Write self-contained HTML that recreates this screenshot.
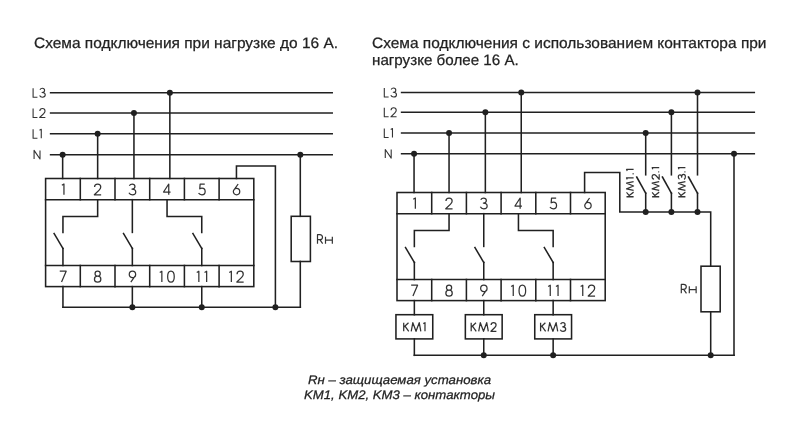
<!DOCTYPE html>
<html><head><meta charset="utf-8"><style>
html,body{margin:0;padding:0;background:#fff;}
svg{display:block;font-family:"Liberation Sans",sans-serif;text-rendering:geometricPrecision;}
</style></head><body>
<svg width="800" height="443" viewBox="0 0 800 443">
<rect width="800" height="443" fill="#fff"/>
<g fill="none" stroke="#202020" stroke-width="1.55" stroke-linecap="square">
<line x1="50.60" y1="92.70" x2="332.20" y2="92.70"/>
<line x1="50.60" y1="113.00" x2="332.20" y2="113.00"/>
<line x1="50.60" y1="133.80" x2="332.20" y2="133.80"/>
<line x1="50.60" y1="154.70" x2="332.20" y2="154.70"/>
<rect x="45.60" y="178.50" width="208.20" height="108.10"/>
<line x1="45.60" y1="199.70" x2="253.80" y2="199.70"/>
<line x1="45.60" y1="265.50" x2="253.80" y2="265.50"/>
<line x1="80.30" y1="178.50" x2="80.30" y2="199.70"/>
<line x1="80.30" y1="265.50" x2="80.30" y2="286.60"/>
<line x1="115.00" y1="178.50" x2="115.00" y2="199.70"/>
<line x1="115.00" y1="265.50" x2="115.00" y2="286.60"/>
<line x1="149.70" y1="178.50" x2="149.70" y2="199.70"/>
<line x1="149.70" y1="265.50" x2="149.70" y2="286.60"/>
<line x1="184.40" y1="178.50" x2="184.40" y2="199.70"/>
<line x1="184.40" y1="265.50" x2="184.40" y2="286.60"/>
<line x1="219.10" y1="178.50" x2="219.10" y2="199.70"/>
<line x1="219.10" y1="265.50" x2="219.10" y2="286.60"/>
<line x1="62.65" y1="154.70" x2="62.65" y2="178.50"/>
<line x1="97.65" y1="133.80" x2="97.65" y2="178.50"/>
<line x1="133.95" y1="113.00" x2="133.95" y2="178.50"/>
<line x1="169.85" y1="92.70" x2="169.85" y2="178.50"/>
<polyline points="97.65,199.70 97.65,216.40 62.95,216.40 62.95,232.40"/>
<line x1="54.15" y1="233.60" x2="62.95" y2="248.40"/>
<line x1="62.95" y1="248.40" x2="62.95" y2="265.50"/>
<line x1="132.35" y1="199.70" x2="132.35" y2="232.40"/>
<line x1="123.55" y1="233.60" x2="132.35" y2="248.40"/>
<line x1="132.35" y1="248.40" x2="132.35" y2="265.50"/>
<polyline points="167.05,199.70 167.05,216.40 201.75,216.40 201.75,232.40"/>
<line x1="192.95" y1="233.60" x2="201.75" y2="248.40"/>
<line x1="201.75" y1="248.40" x2="201.75" y2="265.50"/>
<polyline points="236.45,178.50 236.45,166.00 275.40,166.00 275.40,307.20"/>
<line x1="62.95" y1="286.60" x2="62.95" y2="307.20"/>
<line x1="132.35" y1="286.60" x2="132.35" y2="307.20"/>
<line x1="201.75" y1="286.60" x2="201.75" y2="307.20"/>
<line x1="62.95" y1="307.20" x2="300.30" y2="307.20"/>
<line x1="300.30" y1="154.70" x2="300.30" y2="216.30"/>
<rect x="291.20" y="216.30" width="19.20" height="45.20"/>
<line x1="300.30" y1="261.50" x2="300.30" y2="307.20"/>
<line x1="401.60" y1="92.50" x2="754.30" y2="92.50"/>
<line x1="401.60" y1="112.30" x2="754.30" y2="112.30"/>
<line x1="401.60" y1="133.00" x2="754.30" y2="133.00"/>
<line x1="401.60" y1="153.80" x2="754.30" y2="153.80"/>
<rect x="397.00" y="192.50" width="208.20" height="108.10"/>
<line x1="397.00" y1="213.70" x2="605.20" y2="213.70"/>
<line x1="397.00" y1="279.50" x2="605.20" y2="279.50"/>
<line x1="431.70" y1="192.50" x2="431.70" y2="213.70"/>
<line x1="431.70" y1="279.50" x2="431.70" y2="300.60"/>
<line x1="466.40" y1="192.50" x2="466.40" y2="213.70"/>
<line x1="466.40" y1="279.50" x2="466.40" y2="300.60"/>
<line x1="501.10" y1="192.50" x2="501.10" y2="213.70"/>
<line x1="501.10" y1="279.50" x2="501.10" y2="300.60"/>
<line x1="535.80" y1="192.50" x2="535.80" y2="213.70"/>
<line x1="535.80" y1="279.50" x2="535.80" y2="300.60"/>
<line x1="570.50" y1="192.50" x2="570.50" y2="213.70"/>
<line x1="570.50" y1="279.50" x2="570.50" y2="300.60"/>
<line x1="414.05" y1="153.80" x2="414.05" y2="192.50"/>
<line x1="449.05" y1="133.00" x2="449.05" y2="192.50"/>
<line x1="485.35" y1="112.30" x2="485.35" y2="192.50"/>
<line x1="521.25" y1="92.50" x2="521.25" y2="192.50"/>
<polyline points="449.05,213.70 449.05,230.40 414.35,230.40 414.35,246.40"/>
<line x1="405.55" y1="247.60" x2="414.35" y2="262.40"/>
<line x1="414.35" y1="262.40" x2="414.35" y2="279.50"/>
<line x1="483.75" y1="213.70" x2="483.75" y2="246.40"/>
<line x1="474.95" y1="247.60" x2="483.75" y2="262.40"/>
<line x1="483.75" y1="262.40" x2="483.75" y2="279.50"/>
<polyline points="518.45,213.70 518.45,230.40 553.15,230.40 553.15,246.40"/>
<line x1="544.35" y1="247.60" x2="553.15" y2="262.40"/>
<line x1="553.15" y1="262.40" x2="553.15" y2="279.50"/>
<polyline points="584.60,192.50 584.60,172.50 619.80,172.50 619.80,211.90 710.70,211.90 710.70,266.20"/>
<line x1="645.70" y1="133.00" x2="645.70" y2="174.80"/>
<line x1="636.70" y1="177.00" x2="645.70" y2="193.20"/>
<line x1="645.70" y1="193.20" x2="645.70" y2="211.90"/>
<line x1="671.40" y1="112.30" x2="671.40" y2="174.80"/>
<line x1="662.40" y1="177.00" x2="671.40" y2="193.20"/>
<line x1="671.40" y1="193.20" x2="671.40" y2="211.90"/>
<line x1="697.50" y1="92.50" x2="697.50" y2="174.80"/>
<line x1="688.50" y1="177.00" x2="697.50" y2="193.20"/>
<line x1="697.50" y1="193.20" x2="697.50" y2="211.90"/>
<rect x="701.00" y="266.20" width="19.20" height="45.60"/>
<line x1="710.70" y1="311.80" x2="710.70" y2="355.30"/>
<line x1="734.00" y1="153.80" x2="734.00" y2="355.30"/>
<line x1="414.35" y1="355.30" x2="734.00" y2="355.30"/>
<line x1="414.35" y1="300.60" x2="414.35" y2="314.70"/>
<rect x="395.95" y="314.70" width="36.80" height="24.20"/>
<line x1="414.35" y1="338.90" x2="414.35" y2="355.30"/>
<line x1="483.75" y1="300.60" x2="483.75" y2="314.70"/>
<rect x="465.35" y="314.70" width="36.80" height="24.20"/>
<line x1="483.75" y1="338.90" x2="483.75" y2="355.30"/>
<line x1="553.15" y1="300.60" x2="553.15" y2="314.70"/>
<rect x="534.75" y="314.70" width="36.80" height="24.20"/>
<line x1="553.15" y1="338.90" x2="553.15" y2="355.30"/>
</g>
<g fill="#202020">
<circle cx="62.65" cy="154.70" r="3.0"/>
<circle cx="97.65" cy="133.80" r="3.0"/>
<circle cx="133.95" cy="113.00" r="3.0"/>
<circle cx="169.85" cy="92.70" r="3.0"/>
<circle cx="132.35" cy="307.20" r="3.0"/>
<circle cx="201.75" cy="307.20" r="3.0"/>
<circle cx="275.40" cy="307.20" r="3.0"/>
<circle cx="300.30" cy="154.70" r="3.0"/>
<circle cx="414.05" cy="153.80" r="3.0"/>
<circle cx="449.05" cy="133.00" r="3.0"/>
<circle cx="485.35" cy="112.30" r="3.0"/>
<circle cx="521.25" cy="92.50" r="3.0"/>
<circle cx="645.70" cy="133.00" r="3.0"/>
<circle cx="645.70" cy="211.90" r="3.0"/>
<circle cx="671.40" cy="112.30" r="3.0"/>
<circle cx="671.40" cy="211.90" r="3.0"/>
<circle cx="697.50" cy="92.50" r="3.0"/>
<circle cx="697.50" cy="211.90" r="3.0"/>
<circle cx="734.00" cy="153.80" r="3.0"/>
<circle cx="483.75" cy="355.30" r="3.0"/>
<circle cx="553.15" cy="355.30" r="3.0"/>
<circle cx="710.70" cy="355.30" r="3.0"/>
</g>
<g fill="none" stroke="#333" stroke-linecap="butt" stroke-linejoin="round">
<path transform="translate(32.60,87.70) scale(0.8333,0.8333)" stroke-width="1.320" d="M0.6,0.6 L0.6,11.4 L5.8,11.4"/>
<path transform="translate(39.10,87.70) scale(0.8333,0.8333)" stroke-width="1.320" d="M1.0,2.4 C1.6,1.2 2.6,0.6 3.9,0.6 C5.5,0.6 6.6,1.8 6.6,3.2 C6.6,4.7 5.4,5.7 3.6,5.7 C5.9,5.7 7.4,7.0 7.4,8.6 C7.4,10.2 5.9,11.4 4.0,11.4 C2.5,11.4 1.2,10.6 0.6,9.3"/>
<path transform="translate(32.60,108.00) scale(0.8333,0.8333)" stroke-width="1.320" d="M0.6,0.6 L0.6,11.4 L5.8,11.4"/>
<path transform="translate(39.10,108.00) scale(0.8333,0.8333)" stroke-width="1.320" d="M0.9,3.6 C0.9,1.8 2.2,0.6 4.0,0.6 C5.9,0.6 7.1,1.9 7.1,3.6 C7.1,4.9 6.4,5.8 5.5,6.7 L0.7,11.4 L7.5,11.4"/>
<path transform="translate(32.60,128.80) scale(0.8333,0.8333)" stroke-width="1.320" d="M0.6,0.6 L0.6,11.4 L5.8,11.4"/>
<path transform="translate(39.10,128.80) scale(0.8333,0.8333)" stroke-width="1.320" d="M0.5,1.8 L2.6,0.6 L2.6,11.4"/>
<path transform="translate(33.60,149.90) scale(0.8000,0.8000)" stroke-width="1.375" d="M0.6,11.4 L0.6,0.6 L8.0,11.4 L8.0,0.6"/>
<path transform="translate(61.35,183.40) scale(1.0000,1.0000)" stroke-width="1.250" d="M0.5,1.8 L2.6,0.6 L2.6,11.4"/>
<path transform="translate(59.15,270.65) scale(1.0000,1.0000)" stroke-width="1.250" d="M0.6,0.6 L7.0,0.6 L2.4,11.4"/>
<path transform="translate(93.65,183.40) scale(1.0000,1.0000)" stroke-width="1.250" d="M0.9,3.6 C0.9,1.8 2.2,0.6 4.0,0.6 C5.9,0.6 7.1,1.9 7.1,3.6 C7.1,4.9 6.4,5.8 5.5,6.7 L0.7,11.4 L7.5,11.4"/>
<path transform="translate(93.85,270.65) scale(1.0000,1.0000)" stroke-width="1.250" d="M3.8,0.6 C5.3,0.6 6.4,1.7 6.4,3.1 C6.4,4.5 5.3,5.6 3.8,5.6 C2.3,5.6 1.2,4.5 1.2,3.1 C1.2,1.7 2.3,0.6 3.8,0.6 Z M3.8,5.6 C5.6,5.6 7.0,6.9 7.0,8.5 C7.0,10.1 5.6,11.4 3.8,11.4 C2.0,11.4 0.6,10.1 0.6,8.5 C0.6,6.9 2.0,5.6 3.8,5.6 Z"/>
<path transform="translate(128.35,183.40) scale(1.0000,1.0000)" stroke-width="1.250" d="M1.0,2.4 C1.6,1.2 2.6,0.6 3.9,0.6 C5.5,0.6 6.6,1.8 6.6,3.2 C6.6,4.7 5.4,5.7 3.6,5.7 C5.9,5.7 7.4,7.0 7.4,8.6 C7.4,10.2 5.9,11.4 4.0,11.4 C2.5,11.4 1.2,10.6 0.6,9.3"/>
<path transform="translate(128.45,270.65) scale(1.0000,1.0000)" stroke-width="1.250" d="M2.4,11.4 L6.7,5.3 M4.0,7.0 C2.2,7.0 0.8,5.6 0.8,3.8 C0.8,2.0 2.2,0.6 4.0,0.6 C5.8,0.6 7.2,2.0 7.2,3.8 C7.2,5.6 5.8,7.0 4.0,7.0 Z"/>
<path transform="translate(162.95,183.40) scale(1.0000,1.0000)" stroke-width="1.250" d="M5.8,11.4 L5.8,0.6 L0.6,8.6 L7.6,8.6"/>
<path transform="translate(159.25,270.65) scale(1.0000,1.0000)" stroke-width="1.250" d="M0.5,1.8 L2.6,0.6 L2.6,11.4"/>
<path transform="translate(167.05,270.65) scale(1.0000,1.0000)" stroke-width="1.250" d="M3.9,0.6 C6.0,0.6 7.2,3.0 7.2,6.0 C7.2,9.0 6.0,11.4 3.9,11.4 C1.8,11.4 0.6,9.0 0.6,6.0 C0.6,3.0 1.8,0.6 3.9,0.6 Z"/>
<path transform="translate(197.95,183.40) scale(1.0000,1.0000)" stroke-width="1.250" d="M6.8,0.6 L2.2,0.6 L1.8,5.4 C2.5,4.9 3.2,4.6 4.0,4.6 C5.9,4.6 7.2,6.0 7.2,8.0 C7.2,10.0 5.8,11.4 3.9,11.4 C2.4,11.4 1.2,10.6 0.6,9.6"/>
<path transform="translate(196.25,270.65) scale(1.0000,1.0000)" stroke-width="1.250" d="M0.5,1.8 L2.6,0.6 L2.6,11.4"/>
<path transform="translate(204.05,270.65) scale(1.0000,1.0000)" stroke-width="1.250" d="M0.5,1.8 L2.6,0.6 L2.6,11.4"/>
<path transform="translate(232.55,183.40) scale(1.0000,1.0000)" stroke-width="1.250" d="M5.6,0.6 L1.3,6.7 M4.0,5.0 C5.8,5.0 7.2,6.4 7.2,8.2 C7.2,10.0 5.8,11.4 4.0,11.4 C2.2,11.4 0.8,10.0 0.8,8.2 C0.8,6.4 2.2,5.0 4.0,5.0 Z"/>
<path transform="translate(228.75,270.65) scale(1.0000,1.0000)" stroke-width="1.250" d="M0.5,1.8 L2.6,0.6 L2.6,11.4"/>
<path transform="translate(236.15,270.65) scale(1.0000,1.0000)" stroke-width="1.250" d="M0.9,3.6 C0.9,1.8 2.2,0.6 4.0,0.6 C5.9,0.6 7.1,1.9 7.1,3.6 C7.1,4.9 6.4,5.8 5.5,6.7 L0.7,11.4 L7.5,11.4"/>
<path transform="translate(317.00,234.20) scale(0.8333,0.8333)" stroke-width="1.440" d="M0.6,11.4 L0.6,0.6 L3.4,0.6 C5.4,0.6 6.6,1.9 6.6,3.6 C6.6,5.3 5.4,6.6 3.4,6.6 L0.6,6.6 M3.4,6.6 L6.8,11.4"/>
<path transform="translate(325.00,234.20) scale(0.8333,0.8333)" stroke-width="1.440" d="M0.6,3.0 L0.6,11.4 M8.8,3.0 L8.8,11.4 M0.6,7.0 L8.8,7.0"/>
<path transform="translate(383.80,87.50) scale(0.8333,0.8333)" stroke-width="1.320" d="M0.6,0.6 L0.6,11.4 L5.8,11.4"/>
<path transform="translate(390.30,87.50) scale(0.8333,0.8333)" stroke-width="1.320" d="M1.0,2.4 C1.6,1.2 2.6,0.6 3.9,0.6 C5.5,0.6 6.6,1.8 6.6,3.2 C6.6,4.7 5.4,5.7 3.6,5.7 C5.9,5.7 7.4,7.0 7.4,8.6 C7.4,10.2 5.9,11.4 4.0,11.4 C2.5,11.4 1.2,10.6 0.6,9.3"/>
<path transform="translate(383.80,107.30) scale(0.8333,0.8333)" stroke-width="1.320" d="M0.6,0.6 L0.6,11.4 L5.8,11.4"/>
<path transform="translate(390.30,107.30) scale(0.8333,0.8333)" stroke-width="1.320" d="M0.9,3.6 C0.9,1.8 2.2,0.6 4.0,0.6 C5.9,0.6 7.1,1.9 7.1,3.6 C7.1,4.9 6.4,5.8 5.5,6.7 L0.7,11.4 L7.5,11.4"/>
<path transform="translate(383.80,128.00) scale(0.8333,0.8333)" stroke-width="1.320" d="M0.6,0.6 L0.6,11.4 L5.8,11.4"/>
<path transform="translate(390.30,128.00) scale(0.8333,0.8333)" stroke-width="1.320" d="M0.5,1.8 L2.6,0.6 L2.6,11.4"/>
<path transform="translate(384.80,149.00) scale(0.8000,0.8000)" stroke-width="1.375" d="M0.6,11.4 L0.6,0.6 L8.0,11.4 L8.0,0.6"/>
<path transform="translate(412.75,197.40) scale(1.0000,1.0000)" stroke-width="1.250" d="M0.5,1.8 L2.6,0.6 L2.6,11.4"/>
<path transform="translate(410.55,284.65) scale(1.0000,1.0000)" stroke-width="1.250" d="M0.6,0.6 L7.0,0.6 L2.4,11.4"/>
<path transform="translate(445.05,197.40) scale(1.0000,1.0000)" stroke-width="1.250" d="M0.9,3.6 C0.9,1.8 2.2,0.6 4.0,0.6 C5.9,0.6 7.1,1.9 7.1,3.6 C7.1,4.9 6.4,5.8 5.5,6.7 L0.7,11.4 L7.5,11.4"/>
<path transform="translate(445.25,284.65) scale(1.0000,1.0000)" stroke-width="1.250" d="M3.8,0.6 C5.3,0.6 6.4,1.7 6.4,3.1 C6.4,4.5 5.3,5.6 3.8,5.6 C2.3,5.6 1.2,4.5 1.2,3.1 C1.2,1.7 2.3,0.6 3.8,0.6 Z M3.8,5.6 C5.6,5.6 7.0,6.9 7.0,8.5 C7.0,10.1 5.6,11.4 3.8,11.4 C2.0,11.4 0.6,10.1 0.6,8.5 C0.6,6.9 2.0,5.6 3.8,5.6 Z"/>
<path transform="translate(479.75,197.40) scale(1.0000,1.0000)" stroke-width="1.250" d="M1.0,2.4 C1.6,1.2 2.6,0.6 3.9,0.6 C5.5,0.6 6.6,1.8 6.6,3.2 C6.6,4.7 5.4,5.7 3.6,5.7 C5.9,5.7 7.4,7.0 7.4,8.6 C7.4,10.2 5.9,11.4 4.0,11.4 C2.5,11.4 1.2,10.6 0.6,9.3"/>
<path transform="translate(479.85,284.65) scale(1.0000,1.0000)" stroke-width="1.250" d="M2.4,11.4 L6.7,5.3 M4.0,7.0 C2.2,7.0 0.8,5.6 0.8,3.8 C0.8,2.0 2.2,0.6 4.0,0.6 C5.8,0.6 7.2,2.0 7.2,3.8 C7.2,5.6 5.8,7.0 4.0,7.0 Z"/>
<path transform="translate(514.35,197.40) scale(1.0000,1.0000)" stroke-width="1.250" d="M5.8,11.4 L5.8,0.6 L0.6,8.6 L7.6,8.6"/>
<path transform="translate(510.65,284.65) scale(1.0000,1.0000)" stroke-width="1.250" d="M0.5,1.8 L2.6,0.6 L2.6,11.4"/>
<path transform="translate(518.45,284.65) scale(1.0000,1.0000)" stroke-width="1.250" d="M3.9,0.6 C6.0,0.6 7.2,3.0 7.2,6.0 C7.2,9.0 6.0,11.4 3.9,11.4 C1.8,11.4 0.6,9.0 0.6,6.0 C0.6,3.0 1.8,0.6 3.9,0.6 Z"/>
<path transform="translate(549.35,197.40) scale(1.0000,1.0000)" stroke-width="1.250" d="M6.8,0.6 L2.2,0.6 L1.8,5.4 C2.5,4.9 3.2,4.6 4.0,4.6 C5.9,4.6 7.2,6.0 7.2,8.0 C7.2,10.0 5.8,11.4 3.9,11.4 C2.4,11.4 1.2,10.6 0.6,9.6"/>
<path transform="translate(547.65,284.65) scale(1.0000,1.0000)" stroke-width="1.250" d="M0.5,1.8 L2.6,0.6 L2.6,11.4"/>
<path transform="translate(555.45,284.65) scale(1.0000,1.0000)" stroke-width="1.250" d="M0.5,1.8 L2.6,0.6 L2.6,11.4"/>
<path transform="translate(583.95,197.40) scale(1.0000,1.0000)" stroke-width="1.250" d="M5.6,0.6 L1.3,6.7 M4.0,5.0 C5.8,5.0 7.2,6.4 7.2,8.2 C7.2,10.0 5.8,11.4 4.0,11.4 C2.2,11.4 0.8,10.0 0.8,8.2 C0.8,6.4 2.2,5.0 4.0,5.0 Z"/>
<path transform="translate(580.15,284.65) scale(1.0000,1.0000)" stroke-width="1.250" d="M0.5,1.8 L2.6,0.6 L2.6,11.4"/>
<path transform="translate(587.55,284.65) scale(1.0000,1.0000)" stroke-width="1.250" d="M0.9,3.6 C0.9,1.8 2.2,0.6 4.0,0.6 C5.9,0.6 7.1,1.9 7.1,3.6 C7.1,4.9 6.4,5.8 5.5,6.7 L0.7,11.4 L7.5,11.4"/>
<path transform="translate(403.23,322.20) scale(0.8000,0.8000)" stroke-width="1.563" d="M0.6,0.6 L0.6,11.4 M6.6,0.6 L0.6,6.3 M2.2,4.8 L6.9,11.4"/>
<path transform="translate(410.75,322.20) scale(0.8000,0.8000)" stroke-width="1.563" d="M0.6,11.4 L2.6,0.6 L6.6,11.4 L10.6,0.6 L12.6,11.4"/>
<path transform="translate(422.91,322.20) scale(0.8000,0.8000)" stroke-width="1.563" d="M0.5,1.8 L2.6,0.6 L2.6,11.4"/>
<path transform="translate(470.71,322.20) scale(0.8000,0.8000)" stroke-width="1.563" d="M0.6,0.6 L0.6,11.4 M6.6,0.6 L0.6,6.3 M2.2,4.8 L6.9,11.4"/>
<path transform="translate(478.23,322.20) scale(0.8000,0.8000)" stroke-width="1.563" d="M0.6,11.4 L2.6,0.6 L6.6,11.4 L10.6,0.6 L12.6,11.4"/>
<path transform="translate(490.39,322.20) scale(0.8000,0.8000)" stroke-width="1.563" d="M0.9,3.6 C0.9,1.8 2.2,0.6 4.0,0.6 C5.9,0.6 7.1,1.9 7.1,3.6 C7.1,4.9 6.4,5.8 5.5,6.7 L0.7,11.4 L7.5,11.4"/>
<path transform="translate(540.11,322.20) scale(0.8000,0.8000)" stroke-width="1.563" d="M0.6,0.6 L0.6,11.4 M6.6,0.6 L0.6,6.3 M2.2,4.8 L6.9,11.4"/>
<path transform="translate(547.63,322.20) scale(0.8000,0.8000)" stroke-width="1.563" d="M0.6,11.4 L2.6,0.6 L6.6,11.4 L10.6,0.6 L12.6,11.4"/>
<path transform="translate(559.79,322.20) scale(0.8000,0.8000)" stroke-width="1.563" d="M1.0,2.4 C1.6,1.2 2.6,0.6 3.9,0.6 C5.5,0.6 6.6,1.8 6.6,3.2 C6.6,4.7 5.4,5.7 3.6,5.7 C5.9,5.7 7.4,7.0 7.4,8.6 C7.4,10.2 5.9,11.4 4.0,11.4 C2.5,11.4 1.2,10.6 0.6,9.3"/>
<path transform="translate(680.80,283.80) scale(0.8333,0.8333)" stroke-width="1.440" d="M0.6,11.4 L0.6,0.6 L3.4,0.6 C5.4,0.6 6.6,1.9 6.6,3.6 C6.6,5.3 5.4,6.6 3.4,6.6 L0.6,6.6 M3.4,6.6 L6.8,11.4"/>
<path transform="translate(688.80,283.80) scale(0.8333,0.8333)" stroke-width="1.440" d="M0.6,3.0 L0.6,11.4 M8.8,3.0 L8.8,11.4 M0.6,7.0 L8.8,7.0"/>
<g transform="translate(634.00,197.8) rotate(-90)"><path transform="translate(0.60,-7.90) scale(0.7373,0.6583)" stroke-width="1.747" d="M0.6,0.6 L0.6,11.4 M6.6,0.6 L0.6,6.3 M2.2,4.8 L6.9,11.4"/><path transform="translate(6.94,-7.90) scale(0.7373,0.6583)" stroke-width="1.747" d="M0.6,11.4 L2.6,0.6 L6.6,11.4 L10.6,0.6 L12.6,11.4"/><path transform="translate(18.00,-7.90) scale(0.7373,0.6583)" stroke-width="1.747" d="M0.5,1.8 L2.6,0.6 L2.6,11.4"/><path transform="translate(23.46,-7.90) scale(0.7373,0.6583)" stroke-width="1.747" d="M0.8,9.9 L0.8,11.4"/><path transform="translate(26.41,-7.90) scale(0.7373,0.6583)" stroke-width="1.747" d="M0.5,1.8 L2.6,0.6 L2.6,11.4"/></g>
<g transform="translate(659.60,197.8) rotate(-90)"><path transform="translate(0.60,-7.90) scale(0.7373,0.6583)" stroke-width="1.747" d="M0.6,0.6 L0.6,11.4 M6.6,0.6 L0.6,6.3 M2.2,4.8 L6.9,11.4"/><path transform="translate(6.94,-7.90) scale(0.7373,0.6583)" stroke-width="1.747" d="M0.6,11.4 L2.6,0.6 L6.6,11.4 L10.6,0.6 L12.6,11.4"/><path transform="translate(18.00,-7.90) scale(0.7373,0.6583)" stroke-width="1.747" d="M0.9,3.6 C0.9,1.8 2.2,0.6 4.0,0.6 C5.9,0.6 7.1,1.9 7.1,3.6 C7.1,4.9 6.4,5.8 5.5,6.7 L0.7,11.4 L7.5,11.4"/><path transform="translate(25.23,-7.90) scale(0.7373,0.6583)" stroke-width="1.747" d="M0.8,9.9 L0.8,11.4"/><path transform="translate(28.18,-7.90) scale(0.7373,0.6583)" stroke-width="1.747" d="M0.5,1.8 L2.6,0.6 L2.6,11.4"/></g>
<g transform="translate(685.80,197.8) rotate(-90)"><path transform="translate(0.60,-7.90) scale(0.7373,0.6583)" stroke-width="1.747" d="M0.6,0.6 L0.6,11.4 M6.6,0.6 L0.6,6.3 M2.2,4.8 L6.9,11.4"/><path transform="translate(6.94,-7.90) scale(0.7373,0.6583)" stroke-width="1.747" d="M0.6,11.4 L2.6,0.6 L6.6,11.4 L10.6,0.6 L12.6,11.4"/><path transform="translate(18.00,-7.90) scale(0.7373,0.6583)" stroke-width="1.747" d="M1.0,2.4 C1.6,1.2 2.6,0.6 3.9,0.6 C5.5,0.6 6.6,1.8 6.6,3.2 C6.6,4.7 5.4,5.7 3.6,5.7 C5.9,5.7 7.4,7.0 7.4,8.6 C7.4,10.2 5.9,11.4 4.0,11.4 C2.5,11.4 1.2,10.6 0.6,9.3"/><path transform="translate(25.23,-7.90) scale(0.7373,0.6583)" stroke-width="1.747" d="M0.8,9.9 L0.8,11.4"/><path transform="translate(28.18,-7.90) scale(0.7373,0.6583)" stroke-width="1.747" d="M0.5,1.8 L2.6,0.6 L2.6,11.4"/></g>
</g>
<g style="will-change:transform">
<text x="34.00" y="47.90" font-size="15" text-anchor="start" fill="#222" stroke="#222" stroke-width="0.25" textLength="304" lengthAdjust="spacingAndGlyphs" >Схема подключения при нагрузке до 16 А.</text>
<text x="372.00" y="47.90" font-size="15" text-anchor="start" fill="#222" stroke="#222" stroke-width="0.25" textLength="394.5" lengthAdjust="spacingAndGlyphs" >Схема подключения с использованием контактора при</text>
<text x="372.00" y="64.60" font-size="15" text-anchor="start" fill="#222" stroke="#222" stroke-width="0.25" textLength="146.75" lengthAdjust="spacingAndGlyphs" >нагрузке более 16 А.</text>
<text x="399.50" y="383.60" font-size="12.4" text-anchor="middle" fill="#222" stroke="#222" stroke-width="0.25" textLength="183" lengthAdjust="spacingAndGlyphs" font-style="italic">Rн – защищаемая установка</text>
<text x="399.50" y="398.50" font-size="12.4" text-anchor="middle" fill="#222" stroke="#222" stroke-width="0.25" textLength="191" lengthAdjust="spacingAndGlyphs" font-style="italic">KM1, KM2, KM3 – контакторы</text>
</g>
</svg>
</body></html>
